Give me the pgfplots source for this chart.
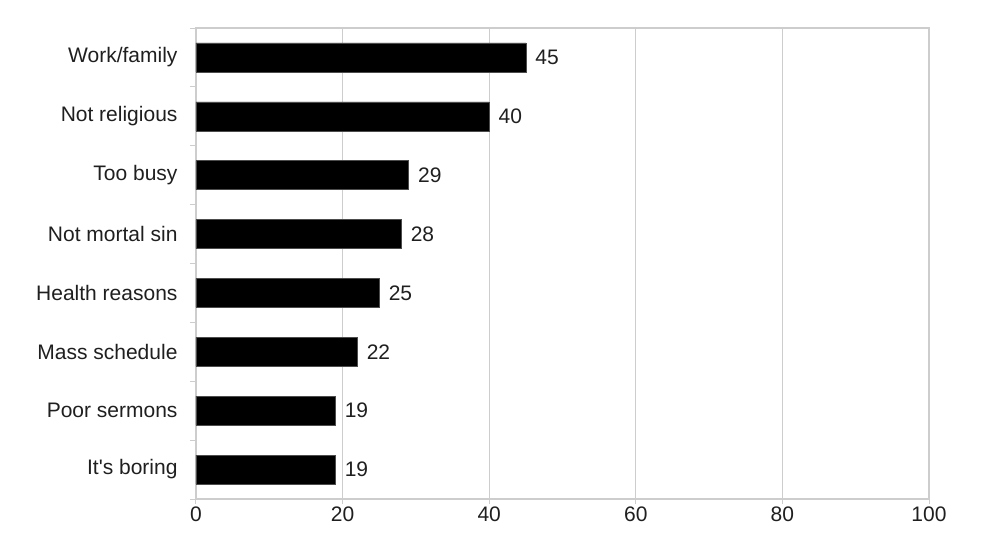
\documentclass[border=0pt]{standalone}
\usepackage{pgfplots}
\pgfplotsset{compat=1.18}
\usepackage{fontspec}
\setmainfont{Liberation Sans}
\definecolor{gridc}{RGB}{205,205,205}
\begin{document}
\begin{tikzpicture}
\begin{axis}[
  scale only axis,
  width=733bp, height=471bp,
  xbar, bar width=29bp,
  xmin=0, xmax=100,
  ymin=-0.5, ymax=7.5,
  y dir=reverse,
  xtick={0,20,...,100},
  ytick={0,...,7},
  yticklabels={Work/family,Not religious,Too busy,Not mortal sin,Health reasons,Mass schedule,Poor sermons,It\textquotesingle s boring},
  minor ytick={-0.5,0.5,...,7.5},
  tick pos=left,
  major tick length=0bp,
  minor tick length=6bp,
  tick align=outside,
  tick style={gridc, line width=1pt},
  xmajorgrids,
  major grid style={gridc, line width=1.2pt},
  axis line style={gridc, line width=1.2pt},
  extra x ticks={0,20,...,100},
  extra x tick labels={},
  extra x tick style={major tick length=5bp, grid=none},
  /pgf/number format/assume math mode=true,
  ticklabel style={font=\fontsize{21bp}{25bp}\selectfont, text=black!88},
  xticklabel style={yshift=-4bp},
  yticklabel style={xshift=-15bp},
  nodes near coords,
  nodes near coords style={font=\fontsize{21bp}{25bp}\selectfont, anchor=west, xshift=6bp, text=black!88},
  clip=false,
]
\addplot[fill=black, draw=black!70] coordinates {(45,0) (40,1) (29,2) (28,3) (25,4) (22,5) (19,6) (19,7)};
\end{axis}
\path (current axis.south west) ++(-196bp,-50bp) coordinate (bl);
\path (current axis.north east) ++(71bp,28bp) coordinate (tr);
\useasboundingbox (bl) rectangle (tr);
\end{tikzpicture}
\end{document}
